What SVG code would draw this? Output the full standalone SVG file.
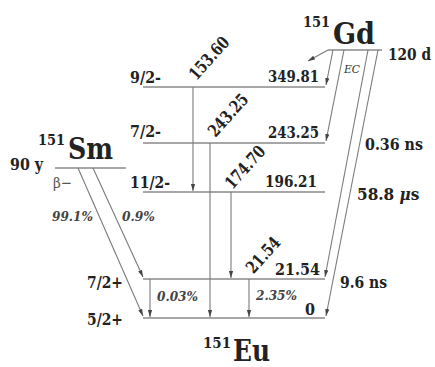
<svg xmlns="http://www.w3.org/2000/svg" width="435" height="367" viewBox="0 0 435 367" font-family="'DejaVu Serif Condensed', 'DejaVu Serif', serif">
<defs>
<marker id="ah" markerWidth="8" markerHeight="6" refX="7" refY="3" orient="auto" markerUnits="userSpaceOnUse">
<path d="M0,0.9 L7,3 L0,5.1 Z" fill="#444"/>
</marker>
<style>
.lv{stroke:#8a8a8a;stroke-width:1.5;fill:none}
.tr{stroke:#7a7a7a;stroke-width:1.1;fill:none;marker-end:url(#ah)}
text{fill:#222}
.b{font-weight:bold;font-size:17px}
.big{font-weight:bold;font-size:30px}
.sup{font-weight:bold;font-size:15.5px}
.pc{font-weight:bold;font-style:italic;font-size:13.5px;fill:#444}
.ec{font-style:italic;font-size:10.5px;fill:#333}
</style>
</defs>
<rect width="435" height="367" fill="#fff"/>

<g id="gd">
<line class="lv" x1="328" y1="50" x2="382" y2="50"/>
<text class="sup" x="303" y="27" textLength="27" lengthAdjust="spacingAndGlyphs">151</text>
<text class="big" x="333" y="44" textLength="42" lengthAdjust="spacingAndGlyphs">Gd</text>
<text class="b" x="388" y="60" textLength="43" lengthAdjust="spacingAndGlyphs">120 d</text>
<text class="ec" x="344" y="73" textLength="16" lengthAdjust="spacingAndGlyphs">EC</text>
</g>

<g id="sm">
<line class="lv" x1="55" y1="168" x2="126" y2="168"/>
<text class="sup" x="38" y="145" textLength="27" lengthAdjust="spacingAndGlyphs">151</text>
<text class="big" x="68" y="159" textLength="45" lengthAdjust="spacingAndGlyphs">Sm</text>
<text class="b" x="10" y="170" textLength="33" lengthAdjust="spacingAndGlyphs">90 y</text>
<text x="53" y="188" style="font-size:15px;fill:#555" textLength="19" lengthAdjust="spacingAndGlyphs">β−</text>
</g>

<g id="eu">
<text class="sup" x="203" y="348" textLength="28" lengthAdjust="spacingAndGlyphs">151</text>
<text class="big" x="233" y="361" textLength="37" lengthAdjust="spacingAndGlyphs">Eu</text>
</g>

<g id="l349">
<line class="lv" x1="143" y1="87" x2="325" y2="87"/>
<text class="b" x="130" y="83" textLength="31" lengthAdjust="spacingAndGlyphs">9/2-</text>
<text class="b" x="268" y="82" textLength="51" lengthAdjust="spacingAndGlyphs">349.81</text>
</g>
<g id="l243">
<line class="lv" x1="143" y1="143" x2="325" y2="143"/>
<text class="b" x="130" y="137" textLength="31" lengthAdjust="spacingAndGlyphs">7/2-</text>
<text class="b" x="268" y="138" textLength="51" lengthAdjust="spacingAndGlyphs">243.25</text>
</g>
<g id="l196">
<line class="lv" x1="143" y1="192" x2="325" y2="192"/>
<text class="b" x="130" y="188" textLength="40" lengthAdjust="spacingAndGlyphs">11/2-</text>
<text class="b" x="265" y="187" textLength="52" lengthAdjust="spacingAndGlyphs">196.21</text>
</g>
<g id="l21">
<line class="lv" x1="143" y1="279" x2="325" y2="279"/>
<text class="b" x="87" y="288" textLength="36" lengthAdjust="spacingAndGlyphs">7/2+</text>
<text class="b" x="275" y="275" textLength="45" lengthAdjust="spacingAndGlyphs">21.54</text>
<text class="b" x="340" y="288" textLength="47" lengthAdjust="spacingAndGlyphs">9.6 ns</text>
</g>
<g id="l0">
<line class="lv" x1="143" y1="318" x2="325" y2="318"/>
<text class="b" x="87" y="325" textLength="36" lengthAdjust="spacingAndGlyphs">5/2+</text>
<text class="b" x="305" y="315" textLength="10" lengthAdjust="spacingAndGlyphs">0</text>
</g>

<g id="connectors">
<line class="tr" x1="193" y1="87" x2="193" y2="191"/>
<line class="tr" x1="210" y1="143" x2="210" y2="317"/>
<line class="tr" x1="231" y1="192" x2="231" y2="278"/>
<line class="tr" x1="249" y1="279" x2="249" y2="317"/>
<line class="tr" x1="150" y1="279" x2="150" y2="317"/>
<line class="tr" x1="78" y1="168" x2="143" y2="316"/>
<line class="tr" x1="93" y1="168" x2="143" y2="277"/>
<line class="tr" x1="328" y1="50" x2="308" y2="61"/>
<line class="tr" x1="333" y1="50" x2="326" y2="85"/>
<line class="tr" x1="344" y1="50" x2="326" y2="141"/>
<line class="tr" x1="368" y1="50" x2="325" y2="277"/>
<line class="tr" x1="378" y1="50" x2="326" y2="316"/>
</g>

<g id="labels">
<text class="b" transform="translate(209,58) rotate(-48)" x="-25.5" dy="6" textLength="51" lengthAdjust="spacingAndGlyphs">153.60</text>
<text class="b" transform="translate(228,115) rotate(-48)" x="-25.5" dy="6" textLength="51" lengthAdjust="spacingAndGlyphs">243.25</text>
<text class="b" transform="translate(245,167) rotate(-48)" x="-25.5" dy="6" textLength="51" lengthAdjust="spacingAndGlyphs">174.70</text>
<text class="b" transform="translate(263,255) rotate(-48)" x="-21" dy="6" textLength="42" lengthAdjust="spacingAndGlyphs">21.54</text>
<text class="b" x="365" y="150" textLength="58" lengthAdjust="spacingAndGlyphs">0.36 ns</text>
<text class="b" x="357" y="200" xml:space="preserve">58.8 <tspan font-style="italic">μ</tspan>s</text>
<text class="pc" x="52" y="221" textLength="41" lengthAdjust="spacingAndGlyphs">99.1%</text>
<text class="pc" x="122" y="221" textLength="33" lengthAdjust="spacingAndGlyphs">0.9%</text>
<text class="pc" x="157" y="301" textLength="41" lengthAdjust="spacingAndGlyphs">0.03%</text>
<text class="pc" x="256" y="300" textLength="41" lengthAdjust="spacingAndGlyphs">2.35%</text>
</g>
</svg>
